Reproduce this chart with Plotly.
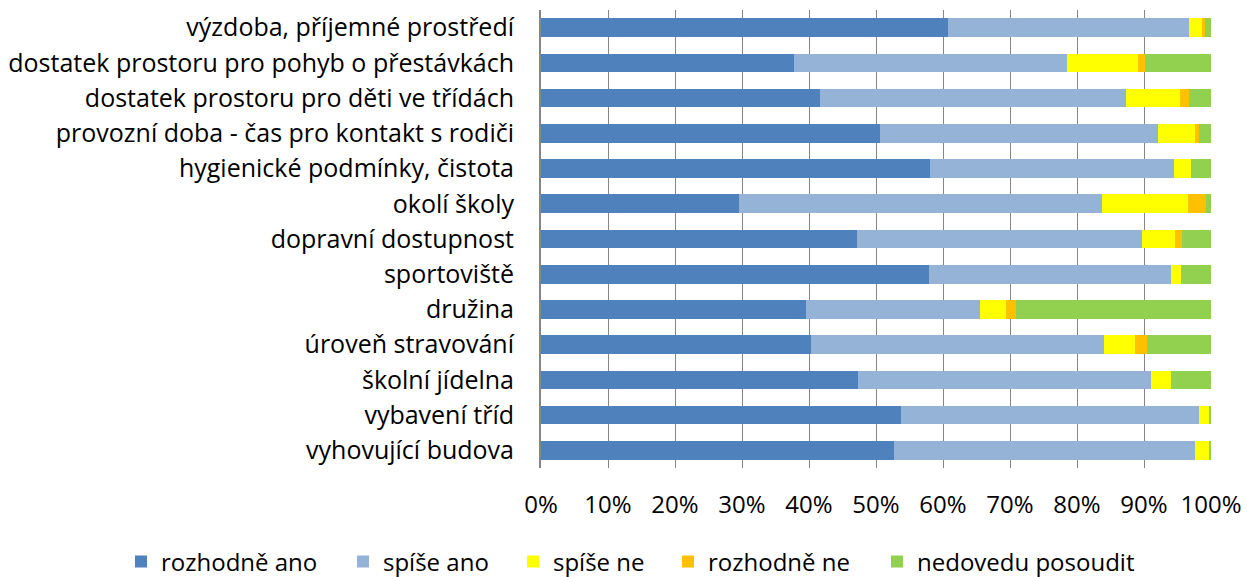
import plotly.graph_objects as go

categories = [
    "výzdoba, příjemné prostředí",
    "dostatek prostoru pro pohyb o přestávkách",
    "dostatek prostoru pro děti ve třídách",
    "provozní doba - čas pro kontakt s rodiči",
    "hygienické podmínky, čistota",
    "okolí školy",
    "dopravní dostupnost",
    "sportoviště",
    "družina",
    "úroveň stravování",
    "školní jídelna",
    "vybavení tříd",
    "vyhovující budova",
]

rozhodne_ano = [60.7, 37.7, 41.7, 50.6, 58.1, 29.6, 47.1, 57.9, 39.5, 40.3, 47.3, 53.7, 52.7]
spise_ano = [36.0, 40.8, 45.6, 41.5, 36.4, 54.1, 42.6, 36.1, 26.0, 43.7, 43.8, 44.5, 44.9]
spise_ne = [1.9, 10.6, 8.0, 5.5, 2.5, 12.8, 5.0, 1.5, 3.9, 4.6, 3.0, 1.5, 2.1]
rozhodne_ne = [0.5, 1.0, 1.4, 0.6, 0.0, 2.8, 0.9, 0.0, 1.5, 1.8, 0.0, 0.0, 0.0]
nedovedu = [0.9, 9.9, 3.3, 1.8, 3.0, 0.7, 4.4, 4.5, 29.1, 9.6, 5.9, 0.3, 0.3]

series_names = ["rozhodně ano", "spíše ano", "spíše ne", "rozhodně ne", "nedovedu posoudit"]
series_values = [rozhodne_ano, spise_ano, spise_ne, rozhodne_ne, nedovedu]
series_colors = ["#4F81BD", "#95B3D7", "#FFFF00", "#FFC000", "#92D050"]

tick_vals = [0, 10, 20, 30, 40, 50, 60, 70, 80, 90, 100]
tick_text = [f"{v}%" for v in tick_vals]

FONT = "Open Sans"
FS = 24

W, H = 1247, 577
ML, MR, MT, MB = 541, 36, 10, 109
PLOT_W = W - ML - MR
PLOT_H = H - MT - MB

# legend entry square positions (px from left) in the reference layout
legend_square_px = [135, 357, 527, 682, 891]
legend_center_px = 562

fig = go.Figure()
legend_layouts = {}
for i, (name, vals, color) in enumerate(zip(series_names, series_values, series_colors)):
    lid = "legend" if i == 0 else f"legend{i + 1}"
    fig.add_trace(go.Bar(
        y=categories, x=vals, name=name, orientation="h",
        marker=dict(color=color, line=dict(width=0)),
        legend=lid,
    ))
    legend_layouts[lid] = dict(
        orientation="h",
        x=(legend_square_px[i] - 14 - ML) / PLOT_W, xanchor="left",
        y=-(legend_center_px - (H - MB)) / PLOT_H, yanchor="middle",
        font=dict(family=FONT, size=FS, color="black"),
        bgcolor="rgba(0,0,0,0)", borderwidth=0,
    )

fig.update_layout(
    barmode="stack",
    barnorm="percent",
    bargap=0.47,
    width=W, height=H,
    margin=dict(l=ML, r=MR, t=MT, b=MB, autoexpand=False),
    paper_bgcolor="white", plot_bgcolor="white",
    font=dict(family=FONT, size=FS, color="black"),
    showlegend=True,
    xaxis=dict(
        range=[0, 100], tickvals=tick_vals, ticktext=tick_text,
        showgrid=True, gridcolor="#868686", gridwidth=1,
        zeroline=False, showline=False, ticks="",
        ticklabelstandoff=20,
        tickfont=dict(family=FONT, size=FS, color="black"),
        fixedrange=True,
    ),
    yaxis=dict(
        autorange="reversed", showline=True, linecolor="#868686", linewidth=2,
        ticks="", showgrid=False,
        ticklabelstandoff=20,
        tickfont=dict(family=FONT, size=25, color="black"),
    ),
    **legend_layouts,
)

fig.write_html(
    "out.html",
    config={"displayModeBar": False},
    post_script="document.body.style.margin='0';document.body.style.overflow='hidden';",
)
